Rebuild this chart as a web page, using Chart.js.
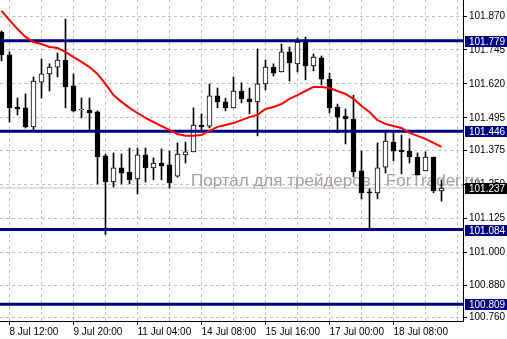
<!DOCTYPE html>
<html>
<head>
<meta charset="utf-8">
<script src="https://cdn.jsdelivr.net/npm/chart.js@4.4.0/dist/chart.umd.min.js"></script>
<style>
  html, body { margin: 0; padding: 0; background: #fff; }
  #wrap { width: 507px; height: 339px; position: relative; }
</style>
</head>
<body>
<div id="wrap"><canvas id="chart"></canvas></div>
<script>
// H4 candles, bar index 0..55
const opens = [101.811, 101.727, 101.535, 101.532, 101.462, 101.627, 101.657, 101.682, 101.708, 101.613,
  101.524, 101.524, 101.517, 101.355, 101.259, 101.311, 101.296, 101.270, 101.359, 101.311,
  101.329, 101.322, 101.281, 101.359, 101.370, 101.469, 101.465, 101.576, 101.554, 101.532,
  101.594, 101.565, 101.554, 101.620, 101.682, 101.664, 101.738, 101.694, 101.782, 101.686,
  101.716, 101.638, 101.535, 101.502, 101.491, 101.300, 101.222, 101.219, 101.314, 101.406,
  101.377, 101.373, 101.351, 101.300, 101.351, 101.226];
const highs = [101.815, 101.738, 101.568, 101.583, 101.646, 101.712, 101.694, 101.734, 101.859, 101.657,
  101.568, 101.568, 101.521, 101.362, 101.366, 101.362, 101.384, 101.384, 101.384, 101.348,
  101.381, 101.373, 101.403, 101.406, 101.532, 101.510, 101.620, 101.605, 101.568, 101.646,
  101.624, 101.605, 101.749, 101.708, 101.694, 101.767, 101.756, 101.789, 101.793, 101.730,
  101.723, 101.660, 101.546, 101.528, 101.579, 101.373, 101.234, 101.403, 101.440, 101.440,
  101.432, 101.418, 101.366, 101.370, 101.351, 101.267];
const lows = [101.705, 101.480, 101.506, 101.458, 101.451, 101.568, 101.594, 101.646, 101.532, 101.517,
  101.495, 101.451, 101.252, 101.066, 101.241, 101.252, 101.252, 101.215, 101.259, 101.267,
  101.267, 101.237, 101.277, 101.329, 101.370, 101.451, 101.458, 101.532, 101.521, 101.532,
  101.550, 101.510, 101.429, 101.598, 101.649, 101.664, 101.631, 101.664, 101.635, 101.668,
  101.616, 101.513, 101.440, 101.399, 101.278, 101.197, 101.086, 101.197, 101.292, 101.337,
  101.289, 101.329, 101.285, 101.300, 101.219, 101.189];
const closes = [101.727, 101.532, 101.528, 101.462, 101.631, 101.657, 101.682, 101.708, 101.609, 101.521,
  101.524, 101.513, 101.351, 101.259, 101.311, 101.292, 101.267, 101.359, 101.311, 101.329,
  101.318, 101.256, 101.362, 101.370, 101.469, 101.462, 101.576, 101.554, 101.532, 101.594,
  101.565, 101.554, 101.620, 101.682, 101.660, 101.738, 101.697, 101.774, 101.686, 101.719,
  101.638, 101.532, 101.498, 101.491, 101.296, 101.219, 101.219, 101.311, 101.410, 101.373,
  101.370, 101.351, 101.285, 101.351, 101.226, 101.237];
// moving average (red)
const maValues = [101.889, 101.855, 101.822, 101.793, 101.774, 101.767, 101.756, 101.752, 101.738, 101.719,
  101.701, 101.682, 101.657, 101.620, 101.579, 101.554, 101.532, 101.513, 101.495, 101.480,
  101.465, 101.451, 101.436, 101.429, 101.429, 101.432, 101.447, 101.462, 101.469, 101.476,
  101.487, 101.498, 101.506, 101.528, 101.535, 101.546, 101.565, 101.579, 101.594, 101.609,
  101.609, 101.605, 101.594, 101.583, 101.565, 101.539, 101.517, 101.487, 101.473, 101.465,
  101.458, 101.440, 101.429, 101.418, 101.403, 101.388];
const levels = [101.779, 101.446, 101.084, 100.809];
const lastPrice = 101.237;
const yTickValues = [101.870, 101.745, 101.620, 101.495, 101.375, 101.250, 101.125, 101.000, 100.880, 100.760];
const xGridBars = [1, 5, 9, 13, 17, 21, 25, 29, 33, 37, 41, 45, 49, 53, 57];
const xTickLabels = { 1: '8 Jul 12:00', 9: '9 Jul 20:00', 17: '11 Jul 04:00', 25: '14 Jul 08:00',
  33: '15 Jul 16:00', 41: '17 Jul 00:00', 49: '18 Jul 08:00' };

const xMin = -0.1875, xMax = 57.6875;
const yMin = 100.7475, yMax = 101.929;
const FONT = '"Liberation Sans Narrow", "Liberation Sans", Arial, sans-serif';

const levelSets = levels.map(v => ({
  type: 'line',
  data: [{ x: xMin, y: v }, { x: xMax, y: v }],
  borderColor: '#000080',
  borderWidth: 3,
  pointRadius: 0,
  order: 1
}));

const noPad = s => { s.paddingTop = 0; s.paddingBottom = 0; s.paddingLeft = 0; s.paddingRight = 0; };

const watermark = {
  id: 'watermark',
  beforeDatasetsDraw(chart) {
    const ctx = chart.ctx;
    ctx.save();
    ctx.font = '17px "Liberation Sans", Arial, sans-serif';
    ctx.fillStyle = '#aa9d9d';
    ctx.textBaseline = 'alphabetic';
    ctx.fillText('Портал для трейдеров - ForTrader.ru', 191, 186);
    ctx.restore();
  }
};

const priceBoxes = {
  id: 'priceBoxes',
  afterDraw(chart) {
    const ctx = chart.ctx;
    const y = chart.scales.y;
    const left = chart.chartArea.right + 2;
    const drawBox = (v, bg) => {
      const py = Math.round(y.getPixelForValue(v));
      ctx.fillStyle = bg;
      ctx.fillRect(left, py - 5, chart.width - left, 11);
      ctx.fillStyle = '#fff';
      ctx.font = '10px ' + FONT;
      ctx.textBaseline = 'middle';
      ctx.textAlign = 'left';
      ctx.fillText(v.toFixed(3), 469, py + 1);
    };
    ctx.save();
    levels.forEach(v => drawBox(v, '#000080'));
    drawBox(lastPrice, '#000');
    ctx.restore();
  }
};

new Chart(document.getElementById('chart'), {
  type: 'bar',
  data: {
    datasets: [
      {
        type: 'line',
        data: [{ x: xMin, y: lastPrice }, { x: xMax, y: lastPrice }],
        borderColor: '#c0c0c0',
        borderWidth: 1,
        pointRadius: 0,
        order: 5
      },
      {
        data: highs.map((h, i) => ({ x: i, y: [lows[i], h] })),
        backgroundColor: '#000',
        barThickness: 1,
        grouped: false,
        order: 4
      },
      {
        data: opens.map((o, i) => ({ x: i, y: [Math.min(o, closes[i]), Math.max(o, closes[i])] })),
        backgroundColor: c => closes[c.dataIndex] >= opens[c.dataIndex] ? '#fff' : '#000',
        borderColor: '#000',
        borderWidth: 1,
        borderSkipped: false,
        barThickness: 5,
        minBarLength: 1,
        grouped: false,
        order: 3
      },
      ...levelSets,
      {
        type: 'line',
        data: maValues.map((v, i) => ({ x: i, y: v })),
        borderColor: '#ff0000',
        borderWidth: 2,
        pointRadius: 0,
        tension: 0,
        order: 0
      }
    ]
  },
  options: {
    responsive: true,
    maintainAspectRatio: false,
    animation: false,
    layout: { padding: 0 },
    plugins: {
      legend: { display: false },
      tooltip: { enabled: false }
    },
    scales: {
      x: {
        type: 'linear',
        min: xMin,
        max: xMax,
        offset: false,
        afterBuildTicks: s => { s.ticks = xGridBars.map(v => ({ value: v })); },
        afterFit: s => { s.height = 18; noPad(s); },
        grid: {
          color: '#c0c0c0',
          offset: false,
          tickLength: 4,
          tickColor: c => (c.tick && xTickLabels[c.tick.value]) ? '#000' : 'rgba(0,0,0,0)'
        },
        border: { color: '#000', dash: [3, 3] },
        ticks: {
          autoSkip: false,
          maxRotation: 0,
          align: 'start',
          padding: 1,
          color: '#000',
          font: { family: FONT, size: 10 },
          callback: v => xTickLabels[v] || ''
        }
      },
      y: {
        position: 'right',
        min: yMin,
        max: yMax,
        afterBuildTicks: s => { s.ticks = yTickValues.map(v => ({ value: v })); },
        afterFit: s => { s.width = 44; noPad(s); },
        grid: { color: '#c0c0c0', tickLength: 4, tickColor: '#000' },
        border: { color: '#000', dash: [3, 3] },
        ticks: {
          padding: 2,
          crossAlign: 'near',
          color: '#000',
          font: { family: FONT, size: 10 },
          callback: v => v.toFixed(3)
        }
      }
    }
  },
  plugins: [watermark, priceBoxes]
});
</script>
</body>
</html>
